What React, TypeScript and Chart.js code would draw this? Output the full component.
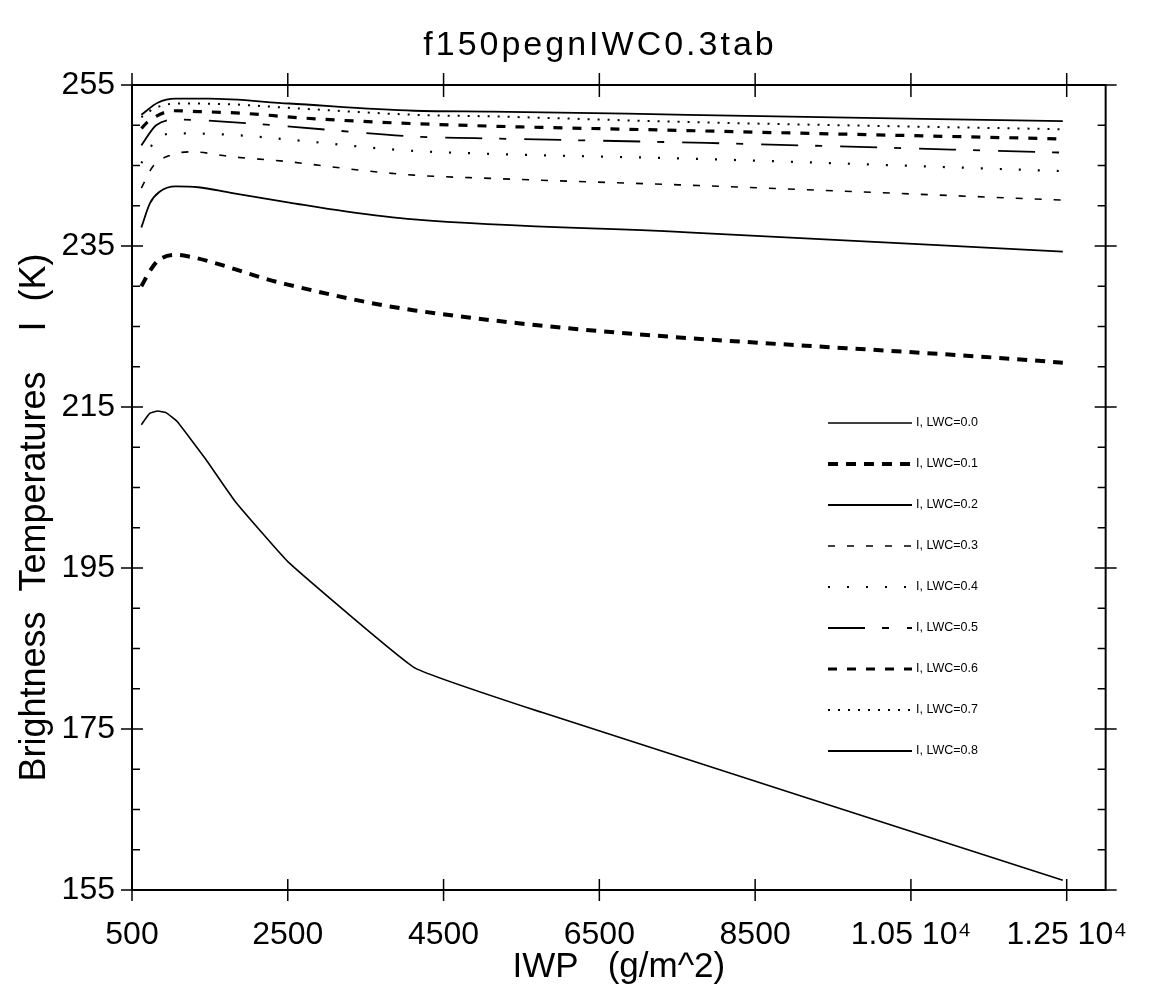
import React, { useEffect, useRef } from "react";
import { Chart, registerables } from "chart.js";

Chart.register(...registerables);

const chartTitle = "f150pegnIWC0.3tab";
const xTitle = "IWP   (g/m^2)";
const yTitle = "Brightness  Temperatures    I  (K)";

const xTicks = [500, 2500, 4500, 6500, 8500, 10500, 12500];
const xTickLabels = ["500", "2500", "4500", "6500", "8500", "1.05 10\u2074", "1.25 10\u2074"];
const yTicks = [155, 175, 195, 215, 235, 255];
const yMinorTicks = [160, 165, 170, 180, 185, 190, 200, 205, 210, 220, 225, 230, 240, 245, 250];

const labels = ["I, LWC=0.0", "I, LWC=0.1", "I, LWC=0.2", "I, LWC=0.3", "I, LWC=0.4", "I, LWC=0.5", "I, LWC=0.6", "I, LWC=0.7", "I, LWC=0.8"];

const iwp00 = [620, 726, 830, 936, 1080, 1440, 1830, 2500, 4130, 5750, 12450];
const tb00 = [212.8, 214.2, 214.5, 214.3, 213.2, 208.6, 203.2, 195.8, 182.6, 177.1, 156.2];
const iwp01 = [620, 750, 850, 1060, 1230, 1560, 1860, 2190, 2500, 4130, 12450];
const tb01 = [230.0, 232.2, 233.3, 233.9, 233.7, 232.9, 232.0, 231.0, 230.2, 227.0, 220.5];
const iwp02 = [620, 730, 850, 1060, 1350, 1770, 2520, 3240, 4120, 7630, 12450];
const tb02 = [237.3, 240.3, 241.7, 242.4, 242.3, 241.6, 240.4, 239.3, 238.3, 236.7, 234.3];
const iwp03 = [620, 770, 1000, 1270, 1770, 2480, 3450, 4120, 5100, 7800, 12450];
const tb03 = [242.2, 244.9, 246.3, 246.7, 246.1, 245.5, 244.4, 243.8, 243.4, 242.5, 240.7];
const iwp04 = [620, 810, 1060, 1790, 2530, 3970, 4930, 7840, 12450];
const tb04 = [245.3, 248.2, 249.0, 248.8, 248.2, 246.9, 246.5, 245.8, 244.3];
const iwp05 = [620, 810, 1080, 1770, 2570, 4120, 4910, 7880, 12450];
const tb05 = [247.5, 250.0, 250.7, 250.4, 249.8, 248.6, 248.4, 247.8, 246.6];
const iwp06 = [620, 700, 1040, 1350, 1900, 2690, 4120, 7800, 12450];
const tb06 = [249.6, 250.4, 251.8, 251.7, 251.5, 250.9, 250.2, 249.3, 248.3];
const iwp07 = [620, 790, 1060, 1770, 2610, 4120, 5120, 7630, 12450];
const tb07 = [251.0, 252.1, 252.7, 252.6, 252.1, 251.3, 251.1, 250.4, 249.5];
const iwp08 = [620, 830, 1060, 1480, 2520, 4120, 5120, 7630, 12450];
const tb08 = [251.3, 252.8, 253.3, 253.3, 252.7, 251.8, 251.7, 251.3, 250.5];

const seriesX = [iwp00, iwp01, iwp02, iwp03, iwp04, iwp05, iwp06, iwp07, iwp08];
const seriesY = [tb00, tb01, tb02, tb03, tb04, tb05, tb06, tb07, tb08];

const dashes: number[][] = [[], [10, 8], [], [7, 12], [2, 17], [37, 17, 7, 18], [9, 10], [2, 8], []];
const widths = [1.6, 4, 1.8, 1.6, 2.2, 1.8, 3.2, 2, 1.8];
const smooth = [false, true, true, true, true, true, true, true, true];

const W = 1154;
const H = 989;

const decorPlugin = {
  id: "decor",
  afterDraw(chart: any) {
    const ctx = chart.ctx;
    const a = chart.chartArea;
    const xs = chart.scales.x;
    const ys = chart.scales.y;
    ctx.save();
    ctx.strokeStyle = "#000";
    ctx.fillStyle = "#000";
    ctx.setLineDash([]);
    ctx.lineWidth = 2;
    ctx.strokeRect(a.left, a.top, a.right - a.left, a.bottom - a.top);
    ctx.lineWidth = 1.5;
    ctx.beginPath();
    for (const v of xTicks) {
      const px = xs.getPixelForValue(v);
      ctx.moveTo(px, a.bottom - 11);
      ctx.lineTo(px, a.bottom + 11);
      ctx.moveTo(px, a.top - 12);
      ctx.lineTo(px, a.top + 12);
    }
    for (const v of yTicks) {
      const py = ys.getPixelForValue(v);
      ctx.moveTo(a.left - 11, py);
      ctx.lineTo(a.left + 11, py);
      ctx.moveTo(a.right - 11, py);
      ctx.lineTo(a.right + 11, py);
    }
    for (const v of yMinorTicks) {
      const py = ys.getPixelForValue(v);
      ctx.moveTo(a.left, py);
      ctx.lineTo(a.left + 8, py);
      ctx.moveTo(a.right - 8, py);
      ctx.lineTo(a.right, py);
    }
    ctx.stroke();

    ctx.textAlign = "center";
    ctx.textBaseline = "alphabetic";
    ctx.font = "34px 'Liberation Sans', sans-serif";
    (ctx as any).letterSpacing = "3px";
    ctx.fillText(chartTitle, 600, 55);
    (ctx as any).letterSpacing = "0px";
    ctx.font = "35px 'Liberation Sans', sans-serif";
    ctx.fillText(xTitle, (a.left + a.right) / 2, 977);
    ctx.save();
    ctx.translate(45, (a.top + a.bottom) / 2 + 30);
    ctx.rotate(-Math.PI / 2);
    ctx.font = "36px 'Liberation Sans', sans-serif";
    ctx.fillText(yTitle, 0, 0);
    ctx.restore();

    ctx.font = "12.5px 'Liberation Sans', sans-serif";
    ctx.textAlign = "left";
    ctx.textBaseline = "middle";
    chart.data.datasets.forEach((ds: any, i: number) => {
      const y = 423 + i * 41;
      ctx.beginPath();
      ctx.setLineDash(ds.borderDash || []);
      ctx.lineWidth = ds.borderWidth;
      ctx.moveTo(828, y);
      ctx.lineTo(912, y);
      ctx.stroke();
      ctx.setLineDash([]);
      ctx.fillText(ds.label, 916, y);
    });
    ctx.restore();
  },
};

export default function App() {
  const ref = useRef<HTMLCanvasElement>(null);
  useEffect(() => {
    if (!ref.current) return;
    const datasets = labels.map((lab, i) => ({
      label: lab,
      data: seriesX[i].map((x, j) => ({ x, y: seriesY[i][j] })),
      borderColor: "#000",
      borderWidth: widths[i],
      borderDash: dashes[i],
      pointRadius: 0,
      fill: false,
      tension: smooth[i] ? 0 : 0.1,
      cubicInterpolationMode: smooth[i] ? ("monotone" as const) : ("default" as const),
    }));
    const chart = new Chart(ref.current, {
      type: "line",
      data: { datasets },
      plugins: [decorPlugin],
      options: {
        animation: false,
        responsive: false,
        layout: { padding: { top: 85, right: 26, left: 0, bottom: 0 } },
        plugins: { legend: { display: false }, title: { display: false }, tooltip: { enabled: false } },
        scales: {
          x: {
            type: "linear",
            min: 500,
            max: 13000,
            grid: { display: false, drawTicks: false },
            border: { display: false },
            afterFit: (s: any) => { s.height = 99; },
            afterBuildTicks: (s: any) => { s.ticks = xTicks.map((v) => ({ value: v })); },
            ticks: {
              autoSkip: false,
              maxRotation: 0,
              padding: 26,
              color: "#000",
              font: { family: "'Liberation Sans', sans-serif", size: 32 },
              callback: (v: any) => { const k = xTicks.indexOf(Number(v)); return k >= 0 ? xTickLabels[k] : ""; },
            },
          },
          y: {
            type: "linear",
            min: 155,
            max: 255,
            grid: { display: false, drawTicks: false },
            border: { display: false },
            afterFit: (s: any) => { s.width = 132; },
            afterBuildTicks: (s: any) => { s.ticks = yTicks.map((v) => ({ value: v })); },
            ticks: {
              autoSkip: false,
              padding: 17,
              color: "#000",
              font: { family: "'Liberation Sans', sans-serif", size: 32 },
              callback: (v: any) => String(v),
            },
          },
        },
      },
    });
    return () => chart.destroy();
  }, []);
  return (
    <div style={{ position: "fixed", left: 0, top: 0, width: W, height: H, background: "#fff" }}>
      <canvas ref={ref} width={W} height={H} style={{ width: W, height: H }} />
    </div>
  );
}
